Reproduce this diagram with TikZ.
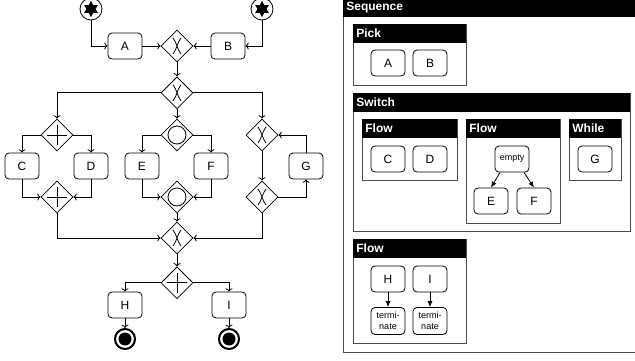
\documentclass[tikz,border=0pt]{standalone}
\usepackage{fontspec}
\setmainfont{Liberation Sans}
\usetikzlibrary{positioning, calc, arrows.meta, shapes.geometric}

\newcommand{\panel}[6]{%
    \draw[frame] (#2,#3) rectangle (#4,#5);
    \fill (#2,#3) rectangle (#4,#3+19);
    \node[head] (#1) at (#2,#3+9.5) {#6};
}

\begin{document}
\begin{tikzpicture}[x=1pt, y=-1pt, line width=0.8pt, font=\fontsize{12}{14}\selectfont,
    task/.style={draw, rounded corners=4pt, minimum width=34pt, minimum height=26pt, inner sep=0pt},
    gate/.style={draw, diamond, aspect=1, minimum width=32pt, minimum height=32pt, inner sep=0pt},
    xgate/.style={gate, path picture={\draw[shift={(path picture bounding box.center)}] (-4,-8) .. controls (0,-3) and (0,3) .. (4,8) (4,-8) .. controls (0,-3) and (0,3) .. (-4,8);}},
    pgate/.style={gate, path picture={\draw[shift={(path picture bounding box.center)}] (-10,0) -- (10,0) (0,-10) -- (0,10);}},
    ogate/.style={gate, path picture={\draw (path picture bounding box.center) circle (9pt);}},
    startev/.style={draw, circle, minimum size=22pt, inner sep=0pt, path picture={\fill[shift={(path picture bounding box.center)}] plot[samples at={0,...,11}] ({90+30*\x}:{8-3.5*mod(\x,2)}) -- cycle;}},
    endev/.style={draw, circle, line width=2pt, minimum size=20pt, inner sep=0pt, path picture={\fill (path picture bounding box.center) circle (6.5pt);}},
    frame/.style={draw=black!70, line width=1pt},
    head/.style={anchor=west, text=white, inner sep=3pt, font=\fontsize{12}{14}\selectfont\bfseries},
    small/.style={font=\fontsize{9}{11.5}\selectfont, align=center},
    arr/.style={-{Latex[length=6pt, width=5pt]}}]
    \useasboundingbox (0,0) rectangle (635,360);

    % process
    \node[startev] (s1) at (91,9) {};
    \node[startev] (s2) at (262,9) {};
    \node[task] (a) at (125,46) {A};
    \node[xgate] (g1) at (177,46) {};
    \node[task] (b) at (228,46) {B};
    \node[xgate, below=14pt of g1] (g2) {};
    \node[pgate] (p1) at (57,135) {};
    \node[ogate] (o1) at (177,135) {};
    \node[xgate] (x1) at (262,135) {};
    \node[task] (c) at (22,166) {C};
    \node[task] (d) at (91,166) {D};
    \node[task] (e) at (142,166) {E};
    \node[task] (f) at (211,166) {F};
    \node[task] (g) at (306,166) {G};
    \node[pgate] (p2) at (57,197) {};
    \node[ogate] (o2) at (177,197) {};
    \node[xgate] (x2) at (262,197) {};
    \node[xgate] (m) at (177,238) {};
    \node[pgate, below=12pt of m] (p3) {};
    \node[task] (h) at (125,305) {H};
    \node[task] (i) at (229,305) {I};
    \node[endev] (e1) at (125,339) {};
    \node[endev] (e2) at (229,339) {};

    \draw[->] (s1) |- (a);
    \draw[->] (s2) |- (b);
    \draw[->] (a) -- (g1);
    \draw[->] (b) -- (g1);
    \draw[->] (g1) -- (g2);
    \draw[->] (g2) -| (p1);
    \draw[->] (g2) -- (o1);
    \draw[->] (g2) -| (x1);
    \draw[->] (p1) -| (c);
    \draw[->] (p1) -| (d);
    \draw[->] (o1) -| (e);
    \draw[->] (o1) -| (f);
    \draw[->] (c) |- (p2);
    \draw[->] (d) |- (p2);
    \draw[->] (e) |- (o2);
    \draw[->] (f) |- (o2);
    \draw[->] (x1) -- (x2);
    \draw[->] (x2) -| (g);
    \draw[->] (g) |- (x1);
    \draw[->] (p2) |- (m);
    \draw[->] (o2) -- (m);
    \draw[->] (x2) |- (m);
    \draw[->] (m) -- (p3);
    \draw[->] (p3) -| (h);
    \draw[->] (p3) -| (i);
    \draw[->] (h) -- (e1);
    \draw[->] (i) -- (e2);

    % structure
    \panel{seq}{343}{-2}{640}{352}{Sequence}
    \panel{pick}{353}{24}{466}{85}{Pick}
    \panel{switch}{353}{93}{630}{231}{Switch}
    \panel{flowa}{362}{119}{457}{180}{Flow}
    \panel{flowb}{466}{119}{560}{223}{Flow}
    \panel{while}{569}{119}{621}{180}{While}
    \panel{flowc}{353}{239}{466}{343}{Flow}

    \node[task] (ra) at (388,63) {A};
    \node[task] (rb) at (430,63) {B};
    \node[task] (rc) at (388,159) {C};
    \node[task] (rd) at (430,159) {D};
    \node[task, small] (empty) at (512,159) {empty};
    \node[task] (re) at (491,201) {E};
    \node[task] (rf) at (534,201) {F};
    \node[task] (rg) at (595,159) {G};
    \node[task] (rh) at (388,279) {H};
    \node[task] (ri) at (430,279) {I};
    \node[task, small, minimum height=27pt] (t1) at (388,321) {termi-\\nate};
    \node[task, small, minimum height=27pt] (t2) at (430,321) {termi-\\nate};

    \draw[arr] ([xshift=-12pt]empty.south) -- (re.north);
    \draw[arr] ([xshift=12pt]empty.south) -- (rf.north);
    \draw[arr] (rh) -- (t1);
    \draw[arr] (ri) -- (t2);
\end{tikzpicture}
\end{document}
